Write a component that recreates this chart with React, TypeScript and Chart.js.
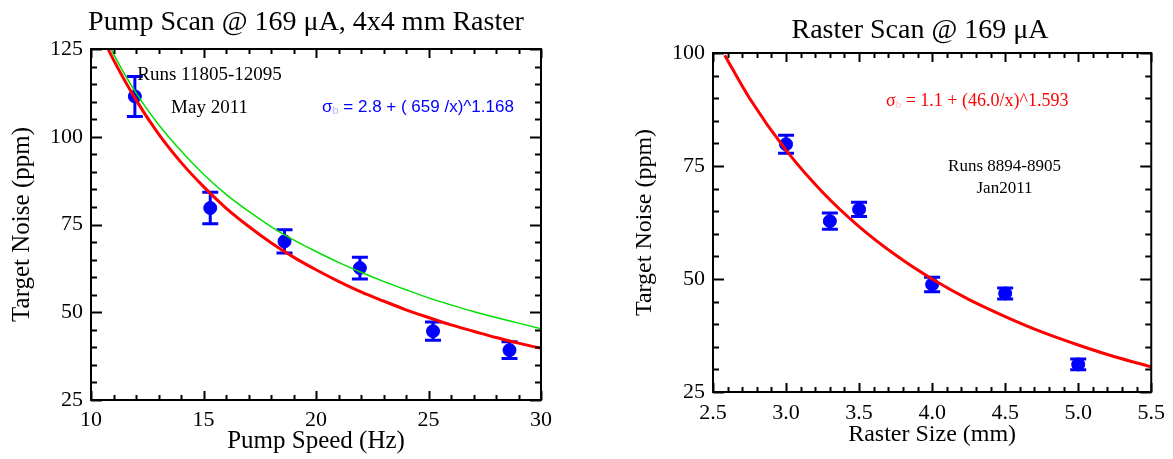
import React, { useEffect, useRef } from 'react';
import { Chart, registerables } from 'chart.js';

Chart.register(...registerables);

// ---------- Left panel: pump scan ----------
const pumpSpeedHz = [11.95, 15.3, 18.6, 21.95, 25.2, 28.6];
const pumpNoisePpm = [111.5, 79.7, 70.2, 62.6, 44.6, 39.2];
const pumpNoiseErr = [5.7, 4.5, 3.3, 3.1, 2.6, 2.4];

const pumpRedFitX = [10.76, 11, 12, 13, 14, 15, 16, 17, 18, 19, 20, 21, 22, 23, 24, 25, 26, 27, 28, 29, 30];
const pumpRedFitY = [125, 121.9, 110.5, 100.8, 92.7, 85.8, 79.7, 74.5, 69.8, 65.7, 62.1, 58.8, 55.8, 53.2, 50.7, 48.5, 46.4, 44.6, 42.8, 41.2, 39.7];

const pumpGreenFitX = [10.9, 11, 12, 13, 14, 15, 16, 17, 18, 19, 20, 21, 22, 23, 24, 25, 26, 27, 28, 29, 30];
const pumpGreenFitY = [125, 123.6, 112.5, 103.5, 96, 89.3, 83.6, 78.8, 74.4, 70.6, 67.3, 64.2, 61.4, 58.8, 56.4, 54.1, 52.1, 50.2, 48.5, 46.9, 45.3];

// ---------- Right panel: raster scan ----------
const rasterSizeMm = [3.0, 3.3, 3.5, 4.0, 4.5, 5.0];
const rasterNoisePpm = [79.8, 62.8, 65.4, 48.8, 46.8, 31.1];
const rasterNoiseErr = [2.0, 1.8, 1.6, 1.6, 1.2, 1.2];

const rasterFitX = [2.58, 2.75, 3.0, 3.25, 3.5, 3.75, 4.0, 4.25, 4.5, 4.75, 5.0, 5.25, 5.5];
const rasterFitY = [99.5, 90.0, 78.5, 69.2, 61.6, 55.3, 50.0, 45.5, 41.7, 38.3, 35.4, 32.8, 30.6];

const SERIF = "'Liberation Serif', 'Times New Roman', serif";
const SANS = "'Liberation Sans', Arial, sans-serif";
const BLUE = '#0000ff';
const RED = '#ff0000';
const GREEN = '#00e000';

type TextPart = { text: string; font: string; color: string; dy?: number };
type TextItem = { parts: TextPart[]; x: number; y: number; align: 'left' | 'center'; baseline?: CanvasTextBaseline };

function framePlugin(xMinor: number, xMajorEvery: number, yMinor: number, yMajorEvery: number) {
  return {
    id: 'frameTicks',
    afterDatasetsDraw(chart: any) {
      const { ctx, chartArea: a, scales } = chart;
      const xs = scales.x;
      const ys = scales.y;
      ctx.save();
      ctx.strokeStyle = '#000';
      ctx.lineWidth = 2;
      ctx.strokeRect(a.left, a.top, a.right - a.left, a.bottom - a.top);
      ctx.beginPath();
      const nx = Math.round((xs.max - xs.min) / xMinor);
      for (let i = 0; i <= nx; i++) {
        const v = xs.min + i * xMinor;
        const px = Math.round(xs.getPixelForValue(v)) + 0.5;
        const len = i % xMajorEvery === 0 ? 9 : 5;
        ctx.moveTo(px, a.bottom);
        ctx.lineTo(px, a.bottom - len);
        ctx.moveTo(px, a.top);
        ctx.lineTo(px, a.top + len);
      }
      const ny = Math.round((ys.max - ys.min) / yMinor);
      for (let i = 0; i <= ny; i++) {
        const v = ys.min + i * yMinor;
        const py = Math.round(ys.getPixelForValue(v)) + 0.5;
        const len = i % yMajorEvery === 0 ? 11 : 6;
        ctx.moveTo(a.left, py);
        ctx.lineTo(a.left + len, py);
        ctx.moveTo(a.right, py);
        ctx.lineTo(a.right - len, py);
      }
      ctx.stroke();
      ctx.restore();
    },
  };
}

function errorBarPlugin(xs: number[], ys: number[], errs: number[], color: string, cap: number) {
  return {
    id: 'errorBars',
    beforeDatasetsDraw(chart: any) {
      const { ctx, scales } = chart;
      ctx.save();
      ctx.strokeStyle = color;
      ctx.lineWidth = 3;
      ctx.beginPath();
      xs.forEach((xv, i) => {
        const px = scales.x.getPixelForValue(xv);
        const top = scales.y.getPixelForValue(ys[i] + errs[i]);
        const bot = scales.y.getPixelForValue(ys[i] - errs[i]);
        ctx.moveTo(px, top);
        ctx.lineTo(px, bot);
        ctx.moveTo(px - cap, top);
        ctx.lineTo(px + cap, top);
        ctx.moveTo(px - cap, bot);
        ctx.lineTo(px + cap, bot);
      });
      ctx.stroke();
      ctx.restore();
    },
  };
}

function textPlugin(items: TextItem[]) {
  return {
    id: 'panelText',
    afterDraw(chart: any) {
      const ctx = chart.ctx as CanvasRenderingContext2D;
      ctx.save();
      items.forEach((it) => {
        ctx.textBaseline = it.baseline || 'middle';
        ctx.textAlign = 'left';
        let total = 0;
        it.parts.forEach((p) => {
          ctx.font = p.font;
          total += ctx.measureText(p.text).width;
        });
        let x = it.align === 'center' ? it.x - total / 2 : it.x;
        it.parts.forEach((p) => {
          ctx.font = p.font;
          ctx.fillStyle = p.color;
          ctx.fillText(p.text, x, it.y + (p.dy || 0));
          x += ctx.measureText(p.text).width;
        });
      });
      ctx.restore();
    },
  };
}

function pts(xs: number[], ys: number[]) {
  return xs.map((x, i) => ({ x, y: ys[i] }));
}

function axisCommon(opts: {
  min: number; max: number; step: number; title: string; fmt: (v: number) => string;
  tickPad: number; titlePad: any; titleSize: number; size: number; horizontal: boolean;
}) {
  return {
    type: 'linear' as const,
    min: opts.min,
    max: opts.max,
    grid: { display: false, drawTicks: false },
    border: { display: false },
    ticks: {
      stepSize: opts.step,
      autoSkip: false,
      maxRotation: 0,
      padding: opts.tickPad,
      color: '#000',
      font: { family: SERIF, size: 22 },
      callback: (v: any) => opts.fmt(Number(v)),
    },
    title: {
      display: true,
      text: opts.title,
      color: '#000',
      font: { family: SERIF, size: opts.titleSize },
      padding: opts.titlePad,
    },
    afterFit: (s: any) => {
      if (opts.horizontal) s.height = opts.size;
      else s.width = opts.size;
    },
  };
}

export default function App() {
  const leftRef = useRef<HTMLCanvasElement>(null);
  const rightRef = useRef<HTMLCanvasElement>(null);

  useEffect(() => {
    const leftChart = new Chart(leftRef.current!, {
      type: 'scatter',
      data: {
        datasets: [
          {
            type: 'line',
            data: pts(pumpRedFitX, pumpRedFitY),
            borderColor: RED,
            borderWidth: 3,
            pointRadius: 0,
            cubicInterpolationMode: 'monotone',
            order: 0,
          } as any,
          {
            type: 'line',
            data: pts(pumpGreenFitX, pumpGreenFitY),
            borderColor: GREEN,
            borderWidth: 1.5,
            pointRadius: 0,
            cubicInterpolationMode: 'monotone',
            order: 0,
          } as any,
          {
            data: pts(pumpSpeedHz, pumpNoisePpm),
            backgroundColor: BLUE,
            borderColor: BLUE,
            pointRadius: 6.5,
            order: 1,
          },
        ],
      },
      options: {
        responsive: false,
        animation: false,
        events: [],
        layout: { padding: { top: 49, right: 39, bottom: 0, left: 0 } },
        plugins: { legend: { display: false }, tooltip: { enabled: false }, title: { display: false } },
        scales: {
          x: axisCommon({ min: 10, max: 30, step: 5, title: 'Pump Speed (Hz)', fmt: (v) => String(v), tickPad: 7, titlePad: { top: 0, bottom: 3 }, titleSize: 25, size: 59, horizontal: true }),
          y: axisCommon({ min: 25, max: 125, step: 25, title: 'Target Noise (ppm)', fmt: (v) => String(v), tickPad: 8, titlePad: { top: 7, bottom: 0 }, titleSize: 25, size: 91, horizontal: false }),
        } as any,
      },
      plugins: [
        errorBarPlugin(pumpSpeedHz, pumpNoisePpm, pumpNoiseErr, BLUE, 8),
        framePlugin(1, 5, 5, 5),
        textPlugin([
          { parts: [{ text: 'Pump Scan @ 169 \u03bcA, 4x4 mm Raster', font: `28px ${SERIF}`, color: '#000' }], x: 306, y: 30, align: 'center', baseline: 'alphabetic' },
          { parts: [{ text: 'Runs 11805-12095', font: `19px ${SERIF}`, color: '#000' }], x: 209.5, y: 75, align: 'center' },
          { parts: [{ text: 'May 2011', font: `19px ${SERIF}`, color: '#000' }], x: 209.5, y: 108, align: 'center' },
          {
            parts: [
              { text: '\u03c3', font: `17px ${SANS}`, color: BLUE },
              { text: 'b', font: `11px ${SANS}`, color: '#b8b8ff', dy: 4 },
              { text: ' = 2.8 + ( 659 /x)^1.168', font: `17px ${SANS}`, color: BLUE },
            ],
            x: 322, y: 107, align: 'left',
          },
        ]),
      ],
    });

    const rightChart = new Chart(rightRef.current!, {
      type: 'scatter',
      data: {
        datasets: [
          {
            type: 'line',
            data: pts(rasterFitX, rasterFitY),
            borderColor: RED,
            borderWidth: 3,
            pointRadius: 0,
            cubicInterpolationMode: 'monotone',
            order: 0,
          } as any,
          {
            data: pts(rasterSizeMm, rasterNoisePpm),
            backgroundColor: BLUE,
            borderColor: BLUE,
            pointRadius: 6.5,
            order: 1,
          },
        ],
      },
      options: {
        responsive: false,
        animation: false,
        events: [],
        layout: { padding: { top: 53, right: 21, bottom: 0, left: 0 } },
        plugins: { legend: { display: false }, tooltip: { enabled: false }, title: { display: false } },
        scales: {
          x: axisCommon({ min: 2.5, max: 5.5, step: 0.5, title: 'Raster Size (mm)', fmt: (v) => v.toFixed(1), tickPad: 8, titlePad: { top: 0, bottom: 10 }, titleSize: 24, size: 67, horizontal: true }),
          y: axisCommon({ min: 25, max: 100, step: 25, title: 'Target Noise (ppm)', fmt: (v) => String(v), tickPad: 8, titlePad: { top: 50, bottom: 0 }, titleSize: 24, size: 133, horizontal: false }),
        } as any,
      },
      plugins: [
        errorBarPlugin(rasterSizeMm, rasterNoisePpm, rasterNoiseErr, BLUE, 8),
        framePlugin(0.1, 5, 5, 5),
        textPlugin([
          { parts: [{ text: 'Raster Scan @ 169 \u03bcA', font: `28px ${SERIF}`, color: '#000' }], x: 340, y: 38, align: 'center', baseline: 'alphabetic' },
          {
            parts: [
              { text: '\u03c3', font: `18px ${SERIF}`, color: RED },
              { text: 'b', font: `11px ${SERIF}`, color: '#ffb8b8', dy: 4 },
              { text: ' = 1.1 + (46.0/x)^1.593', font: `18px ${SERIF}`, color: RED },
            ],
            x: 306, y: 101, align: 'left',
          },
          { parts: [{ text: 'Runs 8894-8905', font: `17px ${SERIF}`, color: '#000' }], x: 424.5, y: 167, align: 'center' },
          { parts: [{ text: 'Jan2011', font: `17px ${SERIF}`, color: '#000' }], x: 424.5, y: 189, align: 'center' },
        ]),
      ],
    });

    return () => {
      leftChart.destroy();
      rightChart.destroy();
    };
  }, []);

  return (
    <div style={{ position: 'absolute', left: 0, top: 0, width: 1173, height: 459, background: '#fff', overflow: 'hidden' }}>
      <canvas ref={leftRef} width={580} height={459} style={{ position: 'absolute', left: 0, top: 0, width: 580, height: 459 }} />
      <canvas ref={rightRef} width={593} height={459} style={{ position: 'absolute', left: 580, top: 0, width: 593, height: 459 }} />
    </div>
  );
}
